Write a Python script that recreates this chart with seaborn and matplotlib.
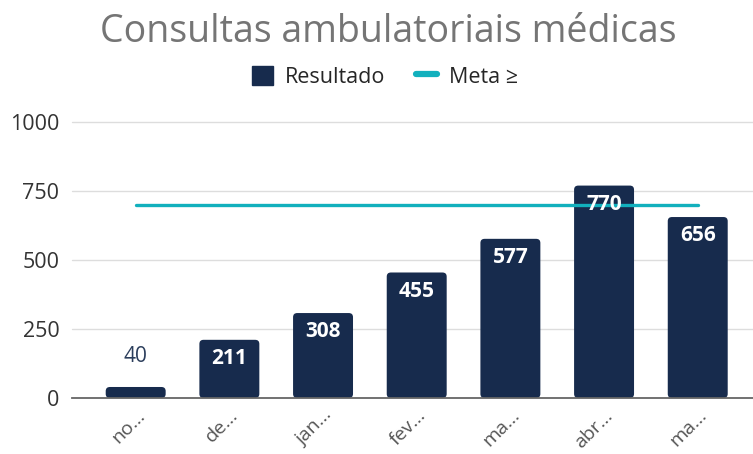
import matplotlib
matplotlib.use("Agg")
import matplotlib.pyplot as plt
import matplotlib.transforms as mtransforms
from matplotlib.lines import Line2D
from matplotlib.patches import Patch, FancyBboxPatch
import seaborn as sns
import numpy as np
import pandas as pd

# Data
categories = ["novembro", "dezembro", "janeiro", "fevereiro", "março", "abril", "maio"]
tick_labels = ["no…", "de…", "jan…", "fev…", "ma…", "abr…", "ma…"]
resultado = [40, 211, 308, 455, 577, 770, 656]
meta = [700, 700, 700, 700, 700, 700, 700]
y_ticks = [0, 250, 500, 750, 1000]

NAVY = "#172B4D"
TEAL = "#12B0BD"

sns.set_theme(style="white")
plt.rcParams["font.family"] = ["Open Sans", "DejaVu Sans"]

df = pd.DataFrame({"mes": categories, "Resultado": resultado, "Meta": meta})

fig = plt.figure(figsize=(7.53, 4.54), dpi=100)
ax = fig.add_axes([0.0956, 0.1233, 0.9044, 0.6077])

sns.barplot(data=df, x="mes", y="Resultado", color=NAVY, width=0.64,
            saturation=1, ax=ax, zorder=2)
pos = np.arange(len(categories))
sns.lineplot(x=pos, y=df["Meta"], color=TEAL, linewidth=2.4, ax=ax, zorder=3)

ax.set_ylim(0, 1000)
ax.set_xlim(-0.68, 6.59)

# rounded bar corners
for p in list(ax.patches):
    x0, y0, w, h = p.get_x(), p.get_y(), p.get_width(), p.get_height()
    fb = FancyBboxPatch((x0, y0), w, h,
                        boxstyle="round,pad=0,rounding_size=0.045",
                        mutation_aspect=330, facecolor=NAVY, edgecolor="none",
                        zorder=2)
    p.remove()
    ax.add_patch(fb)

ax.set_yticks(y_ticks)
ax.set_yticklabels([str(v) for v in y_ticks], fontsize=15.5, color="#333333")
ax.set_xticks(pos)
ax.set_xticklabels(tick_labels, fontsize=14, color="#555555", rotation=45,
                   ha="right", rotation_mode="anchor")
offset = mtransforms.ScaledTranslation(12 / 100, 0, fig.dpi_scale_trans)
for lbl in ax.get_xticklabels():
    lbl.set_transform(lbl.get_transform() + offset)
ax.tick_params(axis="y", length=0, pad=9)
ax.tick_params(axis="x", length=0, pad=6)
ax.set_xlabel("")
ax.set_ylabel("")
for s in ["top", "right", "left"]:
    ax.spines[s].set_visible(False)
ax.spines["bottom"].set_color("#666666")
ax.spines["bottom"].set_linewidth(1.3)
ax.spines["bottom"].set_zorder(4)
for v in y_ticks[1:]:
    ax.axhline(v, color="#dddddd", linewidth=1, zorder=0, clip_on=False)

for i, v in enumerate(resultado):
    if v < 100:
        ax.annotate(str(v), (i, v), xytext=(0, 22), textcoords="offset points",
                    ha="center", va="center", fontsize=15, color="#2c3e5c", zorder=5)
    else:
        ax.annotate(str(v), (i, v), xytext=(0, -13.5), textcoords="offset points",
                    ha="center", va="center", fontsize=15, fontweight="bold",
                    color="white", zorder=5)

fig.text(0.516, 0.929, "Consultas ambulatoriais médicas", ha="center", va="center",
         fontsize=27, color="#757575")

handles = [Patch(facecolor=NAVY, edgecolor=NAVY, label="Resultado"),
           Line2D([0], [0], color=TEAL, linewidth=4.5, label="Meta ≥")]
fig.legend(handles=handles, loc="center", bbox_to_anchor=(0.511, 0.831), ncol=2,
           frameon=False, fontsize=15.5, handlelength=1.0, handleheight=1.0,
           columnspacing=1.4, handletextpad=0.55)

fig.savefig("out.png", dpi=100)
